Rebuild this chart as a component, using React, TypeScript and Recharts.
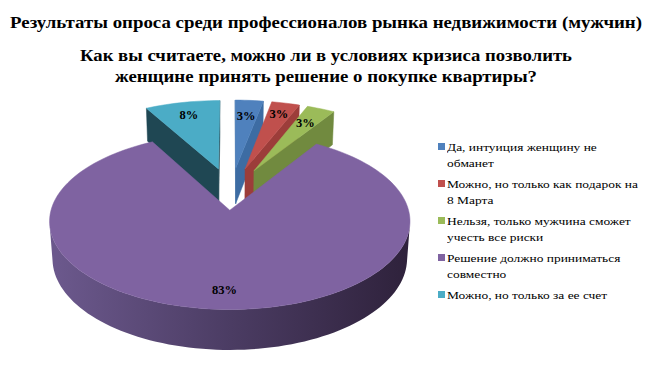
import React from 'react';
import { PieChart, Pie, Legend } from 'recharts';

const TITLE = 'Результаты опроса среди профессионалов рынка  недвижимости (мужчин)';
const QUESTION = [
  'Как вы считаете, можно ли в условиях кризиса позволить',
  'женщине принять решение о покупке квартиры?',
];

const ANSWERS = [
  'Да, интуиция женщину не обманет',
  'Можно, но только как подарок на 8 Марта',
  'Нельзя, только мужчина сможет учесть все риски',
  'Решение должно приниматься совместно',
  'Можно, но только за ее счет',
];
const SHARES = [3, 3, 3, 83, 8];

// styling of the 3d slices
const TOP_COLORS = ['#4F81BD', '#C0504D', '#9BBB59', '#7F63A1', '#4BACC6'];
const WALL_COLORS = ['#3D6CA3', '#9C3D3A', '#718A3F', '#4C3D64', '#1F4753'];
const SIDE_STOPS = ['#6B588C', '#4B3C63', '#2F223C'];
const EXPLODE = [0.3, 0.3, 0.3, 0.216, 0.3];
const LABEL_R = [0.75, 0.82, 0.75, 0.82, 0.8];
const FRONT_SLICE = 3;

const FONT = '"Liberation Serif", "Times New Roman", serif';

// simple perspective camera for the tilted pie
const TILT_SIN = 0.472;
const TILT_COS = 0.883;
const CAM_DIST = 7.15;
const THICK = 0.24;
const D2R = Math.PI / 180;

const data = ANSWERS.map((name, i) => ({ name, value: SHARES[i], idx: i, fill: TOP_COLORS[i] }));

function project(cx: number, cy: number, R: number, X: number, Y: number, Z: number) {
  const w = CAM_DIST + Y * TILT_COS - Z * TILT_SIN;
  const v = Y * TILT_SIN + Z * TILT_COS;
  return [cx + (R * CAM_DIST * X) / w, cy - (R * CAM_DIST * v) / w];
}

const toPoints = (arr: number[][]) => arr.map((p) => `${p[0].toFixed(2)},${p[1].toFixed(2)}`).join(' ');

const getIdx = (props: any) => props.idx ?? props.payload?.idx ?? props.payload?.payload?.idx ?? props.index;

const makeSlice = (front: boolean) => (props: any) => {
  const idx = getIdx(props);
  if ((idx === FRONT_SLICE) !== front) return <g />;
  const { cx, cy, outerRadius: R, startAngle, endAngle } = props;
  const mid = ((startAngle + endAngle) / 2) * D2R;
  const ox = EXPLODE[idx] * Math.cos(mid);
  const oy = EXPLODE[idx] * Math.sin(mid);
  const P = (X: number, Y: number, Z: number) => project(cx, cy, R, X, Y, Z);
  const n = Math.max(2, Math.ceil(Math.abs(startAngle - endAngle) / 2));
  const angs = Array.from({ length: n + 1 }, (_, k) => (startAngle + ((endAngle - startAngle) * k) / n) * D2R);
  const rim = (a: number, Z: number) => P(ox + Math.cos(a), oy + Math.sin(a), Z);
  const camY = -CAM_DIST * TILT_COS;

  const quad = (a: number) => [P(ox, oy, 0), rim(a, 0), rim(a, -THICK), P(ox, oy, -THICK)];
  const walls: number[][][] = [];
  const s = angs[0];
  const e = angs[n];
  if (-Math.sin(s) * -ox + Math.cos(s) * (camY - oy) > 0) walls.push(quad(s));
  if (Math.sin(e) * -ox - Math.cos(e) * (camY - oy) > 0) walls.push(quad(e));

  const vis = angs.filter((a) => -1 - ox * Math.cos(a) + Math.sin(a) * (camY - oy) > 0);
  const outer = vis.length > 1
    ? [...vis.map((a) => rim(a, 0)), ...vis.slice().reverse().map((a) => rim(a, -THICK))]
    : null;

  const top = [P(ox, oy, 0), ...angs.map((a) => rim(a, 0))];
  const gid = `side-${idx}`;

  return (
    <g>
      <defs>
        <linearGradient id={gid} gradientUnits="userSpaceOnUse" x1={cx - R} y1={0} x2={cx + R} y2={0}>
          <stop offset="0%" stopColor={SIDE_STOPS[0]} />
          <stop offset="50%" stopColor={SIDE_STOPS[1]} />
          <stop offset="100%" stopColor={SIDE_STOPS[2]} />
        </linearGradient>
      </defs>
      {walls.map((w, k) => (
        <polygon key={k} points={toPoints(w)} fill={WALL_COLORS[idx]} stroke={WALL_COLORS[idx]} strokeWidth={0.5} />
      ))}
      {outer && <polygon points={toPoints(outer)} fill={`url(#${gid})`} stroke="none" />}
      <polygon points={toPoints(top)} fill={TOP_COLORS[idx]} stroke={TOP_COLORS[idx]} strokeWidth={0.5} />
    </g>
  );
};

const renderPercent = (props: any) => {
  const idx = getIdx(props);
  const { cx, cy, outerRadius: R, percent } = props;
  const midDeg = props.startAngle != null && props.endAngle != null
    ? (props.startAngle + props.endAngle) / 2
    : props.midAngle;
  const a = midDeg * D2R;
  const r = EXPLODE[idx] + LABEL_R[idx];
  const [x, y] = project(cx, cy, R, r * Math.cos(a), r * Math.sin(a), 0);
  return (
    <text key={`lbl-${idx}`} x={x} y={y} textAnchor="middle" dominantBaseline="central"
      fontFamily={FONT} fontWeight="bold" fontSize={12.5} fill="#000">
      {`${Math.round(percent * 100)}%`}
    </text>
  );
};

const renderLegend = (props: any) => {
  const seen = new Set<string>();
  const items = (props.payload || [])
    .filter((p: any) => {
      if (p.type === 'none' || seen.has(p.value)) return false;
      seen.add(p.value);
      return true;
    })
    .sort((a: any, b: any) => ANSWERS.indexOf(a.value) - ANSWERS.indexOf(b.value));
  return (
    <div style={{ fontFamily: FONT, fontSize: 11, color: '#000' }}>
      {items.map((it: any) => (
        <div key={it.value} style={{ display: 'flex', alignItems: 'flex-start', marginBottom: 5 }}>
          <span style={{ width: 7, height: 7, marginTop: 4, marginRight: 2, flex: 'none',
            background: it.color || TOP_COLORS[ANSWERS.indexOf(it.value)] }} />
          <span style={{ display: 'inline-block', width: 160, lineHeight: '16px',
            transform: 'scaleX(1.22)', transformOrigin: 'left top' }}>{it.value}</span>
        </div>
      ))}
    </div>
  );
};

export default function App() {
  return (
    <div style={{ position: 'absolute', left: 0, top: 0, width: 655, height: 370, background: '#fff' }}>
      <PieChart width={655} height={370} margin={{ top: 0, right: 0, bottom: 0, left: 0 }}>
        <Pie data={data} dataKey="value" nameKey="name" cx={231} cy={192} innerRadius={0} outerRadius={174}
          startAngle={90} endAngle={-270} stroke="none" isAnimationActive={false} label={false}
          shape={makeSlice(false)} activeShape={makeSlice(false)} inactiveShape={makeSlice(false)} />
        <Pie data={data} dataKey="value" nameKey="name" cx={231} cy={192} innerRadius={0} outerRadius={174}
          startAngle={90} endAngle={-270} stroke="none" isAnimationActive={false} legendType="none"
          labelLine={false} label={renderPercent}
          shape={makeSlice(true)} activeShape={makeSlice(true)} inactiveShape={makeSlice(true)} />
        <Legend layout="vertical" align="right" verticalAlign="top" content={renderLegend}
          itemSorter={null as any} wrapperStyle={{ left: 438, top: 139, width: 215 }} />
      </PieChart>
      <svg width={655} height={100} style={{ position: 'absolute', left: 0, top: 0, pointerEvents: 'none' }}>
        <text x={326} y={28} textAnchor="middle" fontFamily={FONT} fontWeight="bold" fontSize={17}
          textLength={632} lengthAdjust="spacingAndGlyphs">{TITLE}</text>
        <text x={326} y={61} textAnchor="middle" fontFamily={FONT} fontWeight="bold" fontSize={17}
          textLength={492} lengthAdjust="spacingAndGlyphs">{QUESTION[0]}</text>
        <text x={326} y={82} textAnchor="middle" fontFamily={FONT} fontWeight="bold" fontSize={17}
          textLength={422} lengthAdjust="spacingAndGlyphs">{QUESTION[1]}</text>
      </svg>
    </div>
  );
}
